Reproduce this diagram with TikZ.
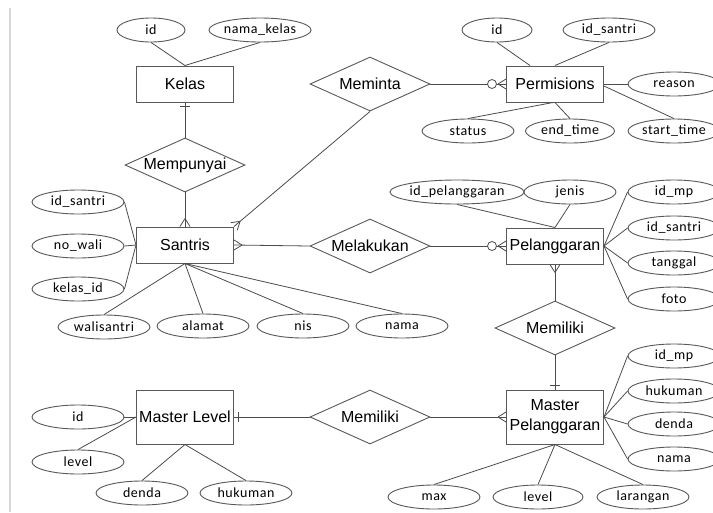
\documentclass[tikz,border=0pt]{standalone}
\usepackage{fontspec}
\setmainfont{Liberation Sans}
\newfontfamily\attrfont[LetterSpace=4]{Carlito}
\usetikzlibrary{shapes.geometric,calc}
\tikzset{
 ent/.style={draw=black!65, line width=1pt, fill=white, minimum width=97pt, minimum height=36pt, inner sep=1pt, font=\fontsize{16}{19}\selectfont, align=center},
 rel/.style={diamond, draw=black!65, line width=0.9pt, fill=white, minimum width=120pt, minimum height=54pt, shape aspect=2.22, inner sep=0pt, font=\fontsize{16}{19}\selectfont},
 attr/.style={ellipse, draw=black!65, line width=0.9pt, fill=white, minimum width=92pt, minimum height=24pt, inner sep=0pt, font=\attrfont\fontsize{14}{15}\selectfont},
 conn/.style={draw=black!70, line width=0.8pt},
}
\newcommand\crowsfoot[2]{%
 \draw[conn] ($(#1)!8pt!(#2)$) -- ($(#1)!5pt!90:(#2)$)
             ($(#1)!8pt!(#2)$) -- ($(#1)!5pt!-90:(#2)$);}
\newcommand\zerocirc[2]{%
 \draw[conn, fill=white] ($(#1)!14pt!(#2)$) circle (4.5pt);}
\newcommand\onetick[2]{%
 \draw[conn] ($(#1)!4pt!(#2)$) -- ($($(#1)!4pt!(#2)$)!5pt!90:(#2)$)
             ($(#1)!4pt!(#2)$) -- ($($(#1)!4pt!(#2)$)!5pt!-90:(#2)$);}
\begin{document}
\begin{tikzpicture}[x=1pt,y=-1pt]
\useasboundingbox (0,0) rectangle (713,512);
\fill[white] (0,0) rectangle (713,512);
\draw[black!15, line width=2pt] (10,8) -- (10,512);

% entities
\node[ent] (kelas) at (185,84) {Kelas};
\node[ent] (santris) at (185,245) {Santris};
\node[ent] (perm) at (555,84) {Permisions};
\node[ent] (pel) at (555,246) {Pelanggaran};
\node[ent, minimum height=54pt] (mp) at (555,417) {Master\\[1pt]Pelanggaran};
\node[ent, minimum height=54pt] (ml) at (185,417) {Master Level};

% relationships
\node[rel] (mempunyai) at (185,165) {Mempunyai};
\node[rel] (meminta) at (370,84) {Meminta};
\node[rel] (melakukan) at (370,246) {Melakukan};
\node[rel] (memv) at (555,328) {Memiliki};
\node[rel] (memh) at (370,417) {Memiliki};

% Kelas attributes
\node[attr, minimum width=68pt] (k_id) at (151,30) {id};
\node[attr] (k_nama) at (260,30) {nama\_kelas};
% Permisions attributes
\node[attr, minimum width=70pt] (p_id) at (497,30) {id};
\node[attr] (p_santri) at (609,30) {id\_santri};
\node[attr] (p_reason) at (674,84) {reason};
\node[attr] (p_status) at (468,131) {status};
\node[attr, minimum width=89pt] (p_end) at (570,131) {end\_time};
\node[attr] (p_start) at (674,131) {start\_time};
% Santris attributes
\node[attr] (s_id) at (78,202) {id\_santri};
\node[attr] (s_wali) at (78,246) {no\_wali};
\node[attr] (s_kelas) at (78,289) {kelas\_id};
\node[attr] (s_walis) at (104,327) {walisantri};
\node[attr] (s_alamat) at (203,326) {alamat};
\node[attr] (s_nis) at (303,326) {nis};
\node[attr] (s_nama) at (402,326) {nama};
% Pelanggaran attributes
\node[attr, minimum width=120pt] (pl_id) at (457,192) {id\_pelanggaran};
\node[attr] (pl_jenis) at (570,192) {jenis};
\node[attr] (pl_mp) at (674,192) {id\_mp};
\node[attr] (pl_santri) at (674,228) {id\_santri};
\node[attr] (pl_tgl) at (674,263) {tanggal};
\node[attr] (pl_foto) at (674,299) {foto};
% Master Pelanggaran attributes
\node[attr] (mp_id) at (674,356) {id\_mp};
\node[attr] (mp_huk) at (674,391) {hukuman};
\node[attr] (mp_denda) at (674,424) {denda};
\node[attr] (mp_nama) at (674,459) {nama};
\node[attr] (mp_max) at (434,497) {max};
\node[attr, minimum width=90pt] (mp_level) at (538,497) {level};
\node[attr] (mp_lar) at (643,497) {larangan};
% Master Level attributes
\node[attr] (ml_id) at (78,417) {id};
\node[attr] (ml_level) at (78,462) {level};
\node[attr] (ml_denda) at (142,493) {denda};
\node[attr] (ml_huk) at (246,493) {hukuman};

% attribute connectors
\draw[conn] (k_id.south) -- (kelas.north);
\draw[conn] (k_nama.south) -- (kelas.north);
\draw[conn] (p_id.south) -- ($(perm.north)+(-25,0)$);
\draw[conn] (p_santri.south) -- (perm.north);
\draw[conn] (p_reason.west) -- (perm.east);
\draw[conn] (p_status.north) -- ($(perm.south)+(-2,0)$);
\draw[conn] (p_end.north) -- (perm.south);
\draw[conn] (p_start.north) -- ($(perm.east)+(0,2)$);
\draw[conn] (s_id.east) -- (santris.west);
\draw[conn] (s_wali.east) -- (santris.west);
\draw[conn] (s_kelas.east) -- (santris.west);
\draw[conn] (s_walis.north) -- (santris.south);
\draw[conn] (s_alamat.north) -- (santris.south);
\draw[conn] (s_nis.north) -- (santris.south);
\draw[conn] (s_nama.north) -- (santris.south);
\draw[conn] (pl_id.south) -- (pel.north);
\draw[conn] (pl_jenis.south) -- (pel.north);
\draw[conn] (pl_mp.west) -- (pel.east);
\draw[conn] (pl_santri.west) -- (pel.east);
\draw[conn] (pl_tgl.west) -- (pel.east);
\draw[conn] (pl_foto.west) -- (pel.east);
\draw[conn] (mp_id.west) -- (mp.east);
\draw[conn] (mp_huk.west) -- (mp.east);
\draw[conn] (mp_denda.west) -- (mp.east);
\draw[conn] (mp_nama.west) -- (mp.east);
\draw[conn] (mp_max.north) -- (mp.south);
\draw[conn] (mp_level.north) -- (mp.south);
\draw[conn] (mp_lar.north) -- (mp.south);
\draw[conn] (ml_id.east) -- (ml.west);
\draw[conn] (ml_level.north) -- (ml.west);
\draw[conn] (ml_denda.north) -- (ml.south);
\draw[conn] (ml_huk.north) -- (ml.south);

% relationship connectors
\draw[conn] (kelas.south) -- (mempunyai.north);
\onetick{kelas.south}{mempunyai.north}
\draw[conn] (mempunyai.south) -- (santris.north);
\crowsfoot{santris.north}{mempunyai.south}
\draw[conn] (meminta.south) -- (santris.north east);
\crowsfoot{santris.north east}{meminta.south}
\draw[conn] (meminta.east) -- (perm.west);
\crowsfoot{perm.west}{meminta.east}
\zerocirc{perm.west}{meminta.east}
\draw[conn] (santris.east) -- (melakukan.west);
\crowsfoot{santris.east}{melakukan.west}
\draw[conn] (melakukan.east) -- (pel.west);
\crowsfoot{pel.west}{melakukan.east}
\zerocirc{pel.west}{melakukan.east}
\draw[conn] (pel.south) -- (memv.north);
\crowsfoot{pel.south}{memv.north}
\draw[conn] (memv.south) -- (mp.north);
\onetick{mp.north}{memv.south}
\draw[conn] (ml.east) -- (memh.west);
\onetick{ml.east}{memh.west}
\draw[conn] (memh.east) -- (mp.west);
\crowsfoot{mp.west}{memh.east}
\end{tikzpicture}
\end{document}
